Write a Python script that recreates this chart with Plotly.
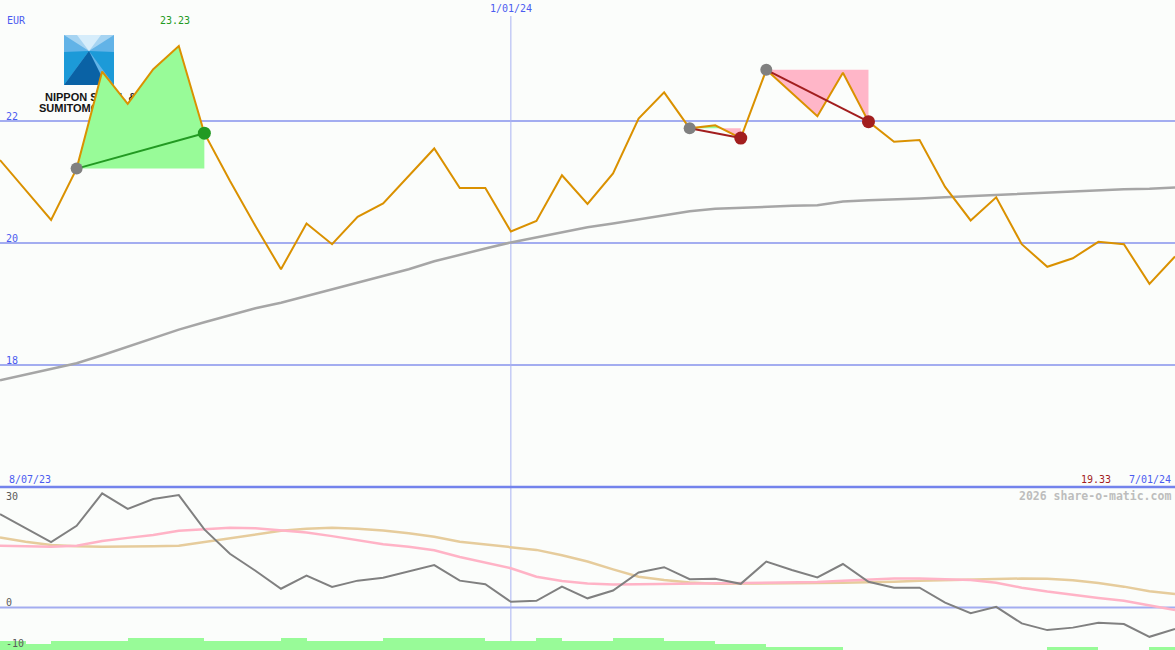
import base64
import pandas as pd
import plotly.graph_objects as go

W, H = 1175, 650

# ---------------- data (weekly) ----------------
start_date = "2023-08-14"
n_weeks = 47
dates = pd.date_range(start_date, periods=n_weeks, freq="7D")

price = [21.36, 20.87, 20.38, 21.22, 22.81, 22.28, 22.85, 23.23, 21.80, 21.02,
         20.28, 19.57, 20.32, 19.98, 20.43, 20.65, 21.10, 21.55, 20.90, 20.90,
         20.19, 20.36, 21.11, 20.64, 21.14, 22.04, 22.47, 21.88, 21.93, 21.72,
         22.84, 22.46, 22.08, 22.79, 21.99, 21.66, 21.69, 20.92, 20.37, 20.75,
         19.98, 19.61, 19.75, 20.02, 19.98, 19.33, 19.78]

moving_avg = [17.75, 17.84, 17.93, 18.03, 18.16, 18.30, 18.44, 18.58, 18.70, 18.82,
              18.93, 19.02, 19.13, 19.24, 19.34, 19.45, 19.57, 19.70, 19.81, 19.91,
              20.01, 20.09, 20.17, 20.26, 20.32, 20.39, 20.46, 20.52, 20.56, 20.58,
              20.60, 20.61, 20.62, 20.68, 20.70, 20.71, 20.73, 20.75, 20.77, 20.79,
              20.81, 20.83, 20.84, 20.86, 20.88, 20.89, 20.91]

oscillator = [26.4, 22.5, 18.5, 23.1, 32.3, 27.9, 30.7, 31.8, 22.1, 15.2,
              10.4, 5.3, 9.0, 5.8, 7.6, 8.4, 10.2, 12.0, 7.6, 6.6,
              1.6, 1.9, 5.9, 2.6, 4.8, 9.9, 11.4, 8.0, 8.1, 6.7,
              13.0, 10.6, 8.5, 12.3, 7.3, 5.6, 5.6, 1.4, -1.6, 0.2,
              -4.5, -6.4, -5.7, -4.3, -4.7, -8.3, -6.1]

signal_pink = [17.5, 17.3, 17.2, 17.5, 18.8, 19.7, 20.5, 21.7, 22.2, 22.6,
               22.4, 21.8, 21.2, 20.2, 19.1, 17.9, 17.2, 16.2, 14.3, 12.6,
               11.1, 8.7, 7.5, 6.8, 6.5, 6.6, 6.7, 6.8, 6.8, 6.8,
               6.9, 7.0, 7.2, 7.6, 8.0, 8.2, 8.2, 8.1, 7.8, 7.0,
               5.6, 4.5, 3.5, 2.7, 1.9, 0.6, -0.7]

signal_tan = [19.8, 18.6, 17.7, 17.3, 17.2, 17.2, 17.3, 17.5, 18.6, 19.6,
              20.7, 21.7, 22.3, 22.6, 22.3, 21.8, 21.0, 20.0, 18.6, 17.8,
              17.2, 16.3, 14.8, 13.0, 10.8, 8.7, 7.8, 7.1, 6.7, 6.7,
              6.8, 6.8, 6.9, 7.0, 7.1, 7.3, 7.6, 7.8, 8.0, 8.2,
              8.2, 8.1, 7.7, 6.9, 5.9, 4.6, 3.8]

volume_level = [3, 2, 3, 3, 3, 4, 4, 4, 3, 3,
                3, 4, 3, 3, 3, 4, 4, 4, 4, 3,
                3, 4, 3, 3, 4, 4, 3, 3, 2, 2,
                1, 1, 1, 0, 0, 0, 0, 0, 0, 0,
                0, 1, 1, 0, 0, 1, 1]

# trade signals: (start index, end index, kind)
signals = [(3, 8, "buy"), (27, 29, "sell"), (30, 34, "sell")]

price_ticks = [22, 20, 18]
lower_ticks = [30, 0, -10]
max_label, min_label = "23.23", "19.33"
currency = "EUR"
first_label, mid_label, last_label = "8/07/23", "1/01/24", "7/01/24"
mid_date = "2024-01-01"
watermark = "2026 share-o-matic.com"

# ---------------- style ----------------
BG = "#FBFDFB"
BLUE_TXT = "#4B5CF0"
GRID = "#A3ADF0"
SEP = "#7383EC"
PRICE_C = "#DA9100"
MA_C = "#A6A6A6"
OSC_C = "#808080"
PINK_C = "#FFB3C6"
TAN_C = "#E6CC9C"
GREEN_FILL = "#98FB98"
PINK_FILL = "#FFB6C8"
GREEN_C = "#229A22"
RED_C = "#A21E1E"
GRAY_DOT = "#808080"
FONT = "DejaVu Sans Mono"

x_range = ["2023-08-14", "2024-07-01"]
sep_px = 487
split = 1 - sep_px / H
main_range = [16.0, 23.984]
lower_range = [-12.03, 34.1]
vol_range = [0, (H - sep_px) / 3.0]


def px(x):
    return x / W


def py(y):
    return 1 - y / H


def fill_polys(i0, i1):
    xs = [d.value / 1e6 for d in dates[i0:i1 + 1]]
    ys = price[i0:i1 + 1]
    base = ys[0]
    pts = []
    for j in range(len(xs)):
        pts.append((xs[j], ys[j]))
        if j < len(xs) - 1:
            d0, d1 = ys[j] - base, ys[j + 1] - base
            if d0 * d1 < 0:
                t = d0 / (d0 - d1)
                pts.append((xs[j] + t * (xs[j + 1] - xs[j]), base))
    res = []
    for f, col in ((max, GREEN_FILL), (min, PINK_FILL)):
        top = [(x, f(y, base)) for x, y in pts]
        if all(abs(y - base) < 1e-9 for _, y in top):
            continue
        poly = top + [(pts[-1][0], base), (pts[0][0], base)]
        res.append((pd.to_datetime([p[0] for p in poly], unit="ms"),
                    [p[1] for p in poly], col))
    return res


fig = go.Figure()

# volume-like bars at the bottom
fig.add_trace(go.Bar(x=dates, y=volume_level, width=7 * 24 * 3600 * 1000, offset=0,
                     marker=dict(color=GREEN_FILL, line=dict(width=0)),
                     xaxis="x2", yaxis="y3", hoverinfo="skip"))

# lower panel lines
fig.add_trace(go.Scatter(x=dates, y=signal_tan, mode="lines",
                         line=dict(color=TAN_C, width=2.5), xaxis="x2", yaxis="y2"))
fig.add_trace(go.Scatter(x=dates, y=signal_pink, mode="lines",
                         line=dict(color=PINK_C, width=2.5), xaxis="x2", yaxis="y2"))
fig.add_trace(go.Scatter(x=dates, y=oscillator, mode="lines",
                         line=dict(color=OSC_C, width=2), xaxis="x2", yaxis="y2"))

# signal fills
for i0, i1, kind in signals:
    for xx, yy, col in fill_polys(i0, i1):
        fig.add_trace(go.Scatter(x=xx, y=yy, mode="lines", fill="toself",
                                 fillcolor=col, line=dict(width=0, color=col),
                                 hoverinfo="skip"))

# moving average and price
fig.add_trace(go.Scatter(x=dates, y=moving_avg, mode="lines",
                         line=dict(color=MA_C, width=2.5)))
fig.add_trace(go.Scatter(x=dates, y=price, mode="lines",
                         line=dict(color=PRICE_C, width=2)))

# signal lines and dots
for i0, i1, kind in signals:
    col = GREEN_C if kind == "buy" else RED_C
    fig.add_trace(go.Scatter(x=[dates[i0], dates[i1]], y=[price[i0], price[i1]],
                             mode="lines", line=dict(color=col, width=2)))
    fig.add_trace(go.Scatter(x=[dates[i0]], y=[price[i0]], mode="markers",
                             marker=dict(color=GRAY_DOT, size=12)))
    fig.add_trace(go.Scatter(x=[dates[i1]], y=[price[i1]], mode="markers",
                             marker=dict(color=col, size=13)))

# ---------------- shapes ----------------
shapes = []
for v in price_ticks:
    shapes.append(dict(type="line", xref="paper", x0=0, x1=1, yref="y", y0=v, y1=v,
                       line=dict(color=GRID, width=2), layer="below"))
for v in [0]:
    shapes.append(dict(type="line", xref="paper", x0=0, x1=1, yref="y2", y0=v, y1=v,
                       line=dict(color=GRID, width=2), layer="below"))
shapes.append(dict(type="line", xref="x", x0=mid_date, x1=mid_date, yref="paper",
                   y0=0, y1=py(16), line=dict(color="#A8B2F2", width=1), layer="below"))
shapes.append(dict(type="line", xref="paper", x0=0, x1=1, yref="paper", y0=split, y1=split,
                   line=dict(color=SEP, width=2.5), layer="above"))

# ---------------- logo (svg image, drawn under traces) ----------------
logo_svg = '''<svg xmlns="http://www.w3.org/2000/svg" width="120" height="85" viewBox="30 30 120 85">
<rect x="64" y="35" width="50" height="50" fill="#62B3E7"/>
<polygon points="64,35 114,35 89,51" fill="#A6D4F2"/>
<polygon points="77,35 101,35 89,51" fill="#D6EDFB"/>
<polygon points="64,52 89,51 64,85" fill="#1C9AD8"/>
<polygon points="114,52 89,51 114,85" fill="#1C9AD8"/>
<polygon points="89,51 64,85 106,85" fill="#0A62A5"/>
<text x="45" y="101" font-family="Liberation Sans, Arial, sans-serif" font-weight="bold" font-size="11" fill="#151515">NIPPON STEEL &amp;</text>
<text x="39" y="111.5" font-family="Liberation Sans, Arial, sans-serif" font-weight="bold" font-size="11" fill="#151515">SUMITOMO METAL</text>
</svg>'''
logo_uri = "data:image/svg+xml;base64," + base64.b64encode(logo_svg.encode()).decode()
images = [dict(source=logo_uri, xref="paper", yref="paper", x=px(30), y=py(30),
               sizex=px(120), sizey=85 / H, xanchor="left", yanchor="top",
               sizing="stretch", layer="below")]

# ---------------- annotations ----------------
ann = []


def txt(text, x, y, color, xanchor="left", size=10, xref="paper", yref="paper",
        yanchor="middle", yshift=0, bold=False):
    ann.append(dict(text=f"<b>{text}</b>" if bold else text, x=x, y=y, xref=xref, yref=yref,
                    xanchor=xanchor, yanchor=yanchor, yshift=yshift, showarrow=False,
                    font=dict(family=FONT, size=size, color=color)))


txt(currency, px(5), py(20), BLUE_TXT)
txt(max_label, px(158), py(20), GREEN_C)
txt(mid_label, mid_date, py(9), BLUE_TXT, xanchor="center", xref="x")
for v in price_ticks:
    txt(str(v), px(4), v, BLUE_TXT, yref="y", yshift=5)
for v in lower_ticks:
    txt(str(v), px(4), v, "#5A5A5A", yref="y2", yshift=5 if v >= 0 else -1)
txt(first_label, px(7), py(479), BLUE_TXT)
txt(min_label, px(1113), py(479), RED_C, xanchor="right")
txt(last_label, px(1173), py(479), BLUE_TXT, xanchor="right")
txt(watermark, px(1173), py(496), "#BDBDBD", xanchor="right", size=11.5, bold=True)

hidden = dict(showticklabels=False, showgrid=False, zeroline=False, showline=False,
              ticks="", fixedrange=True)

fig.update_layout(
    width=W, height=H, margin=dict(l=0, r=0, t=0, b=0),
    paper_bgcolor=BG, plot_bgcolor=BG, showlegend=False,
    xaxis=dict(range=x_range, domain=[0, 1], anchor="y", **hidden),
    xaxis2=dict(range=x_range, domain=[0, 1], anchor="y2", matches="x", **hidden),
    yaxis=dict(range=main_range, domain=[split, 1], anchor="x", **hidden),
    yaxis2=dict(range=lower_range, domain=[0, split], anchor="x2", **hidden),
    yaxis3=dict(range=vol_range, overlaying="y2", anchor="x2", **hidden),
    shapes=shapes, images=images, annotations=ann, bargap=0,
)

fig.write_html("out.html", config={"displayModeBar": False},
               post_script="document.body.style.margin='0';document.body.style.overflow='hidden';"
                           "document.body.style.background='" + BG + "';")
